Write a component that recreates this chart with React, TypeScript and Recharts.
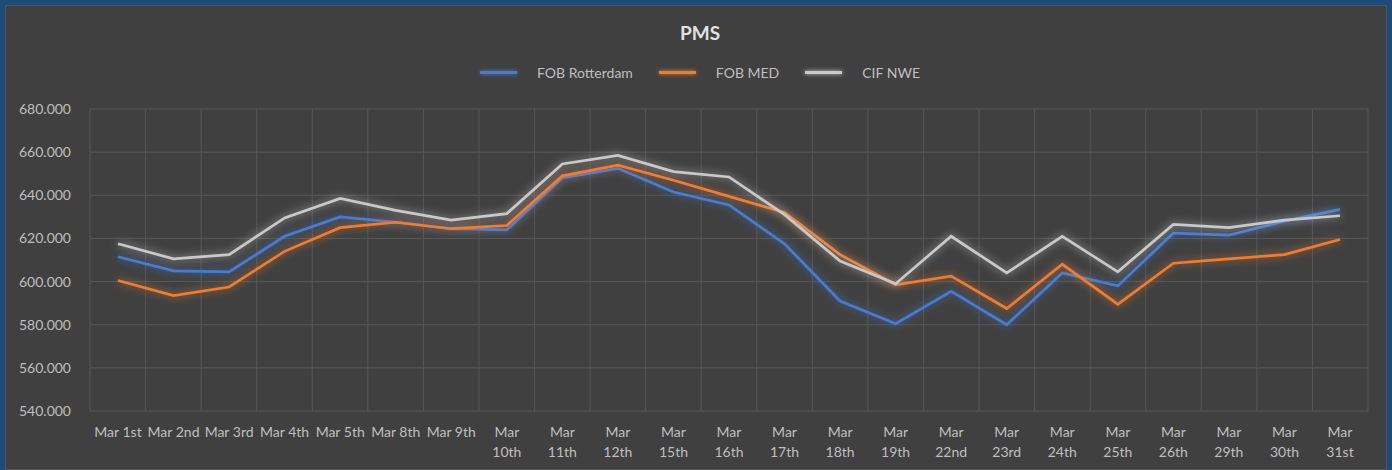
import React from "react";
import { LineChart, Line, XAxis, YAxis, CartesianGrid, Legend } from "recharts";

const categories = ["Mar 1st","Mar 2nd","Mar 3rd","Mar 4th","Mar 5th","Mar 8th","Mar 9th","Mar 10th","Mar 11th","Mar 12th","Mar 15th","Mar 16th","Mar 17th","Mar 18th","Mar 19th","Mar 22nd","Mar 23rd","Mar 24th","Mar 25th","Mar 26th","Mar 29th","Mar 30th","Mar 31st"];
const fobRotterdam = [611.5, 605, 604.5, 621, 630, 627.5, 624.5, 624, 648, 652.5, 641.5, 635.5, 617.5, 591, 580.5, 595.5, 580, 604, 598, 622.5, 621.5, 628, 633.5];
const fobMed = [600.5, 593.5, 597.5, 614, 625, 627.5, 624.5, 626, 649, 654, 647, 639.5, 632, 612.5, 598.5, 602.5, 587.5, 608, 589.5, 608.5, 610.5, 612.5, 619.5];
const cifNwe = [617.5, 610.5, 612.5, 629.5, 638.5, 633, 628.5, 631.5, 654.5, 658.5, 651, 648.5, 631, 609.5, 599, 621, 604, 621, 604.5, 626.5, 625, 628.5, 630.5];
const yTicks = [540, 560, 580, 600, 620, 640, 660, 680];

const seriesNames = ["FOB Rotterdam", "FOB MED", "CIF NWE"];
const seriesColors = ["#4a7bd0", "#ed7d31", "#c9c9c9"];

const data = categories.map((c, i) => ({
  name: c,
  "FOB Rotterdam": fobRotterdam[i],
  "FOB MED": fobMed[i],
  "CIF NWE": cifNwe[i],
}));

const FONT = "Lato, 'Open Sans', sans-serif";

const XTick = (props: any) => {
  const { x, y, payload } = props;
  const label: string = payload.value;
  const parts = label.length > 7 ? label.split(" ") : [label];
  return (
    <text x={x} y={y} textAnchor="middle" fill="#bfbfbf" fontSize={14} fontFamily={FONT}>
      {parts.map((p, i) => (
        <tspan key={i} x={x} dy={20}>{p}</tspan>
      ))}
    </text>
  );
};

const LegendContent = (props: any) => {
  const payload = [...(props.payload || [])].sort(
    (a: any, b: any) => seriesNames.indexOf(a.value) - seriesNames.indexOf(b.value)
  );
  return (
    <div style={{ display: "flex", justifyContent: "center", alignItems: "center", fontFamily: FONT, fontSize: 14, color: "#bfbfbf", paddingLeft: 8 }}>
      {payload.map((p: any, i: number) => (
        <div key={i} style={{ display: "flex", alignItems: "center", marginLeft: i === 0 ? 0 : 26 }}>
          <div style={{ width: 37, height: 3, background: p.color, marginRight: 20, boxShadow: `0 0 4px ${p.color}` }} />
          <span>{p.value}</span>
        </div>
      ))}
    </div>
  );
};

export default function App() {
  const W = 1382;
  const H = 465;
  return (
    <div style={{ position: "absolute", left: 0, top: 0, width: 1392, height: 470, background: "#1d4b7a", overflow: "hidden" }}>
      <div style={{ position: "absolute", left: 5, top: 5, width: W, height: H, background: "#404040", boxShadow: "inset 0 0 0 1px #555" }}>
        <div style={{ position: "absolute", left: 0, top: 16, width: W, textAlign: "center", fontFamily: FONT, fontWeight: 700, fontSize: 19, color: "#e2e2e2", zIndex: 2, paddingLeft: 8, boxSizing: "border-box" }}>
          PMS
        </div>
        <LineChart width={W} height={H} data={data} margin={{ top: 104, right: 19, bottom: 0, left: 0 }}>
          <defs>
            {seriesColors.map((c, i) => (
              <filter key={i} id={`glow${i}`} x="-5%" y="-30%" width="110%" height="160%">
                <feGaussianBlur in="SourceGraphic" stdDeviation="4.5" result="blur" />
                <feComponentTransfer in="blur" result="blur2">
                  <feFuncA type="linear" slope="0.8" />
                </feComponentTransfer>
                <feMerge>
                  <feMergeNode in="blur2" />
                  <feMergeNode in="SourceGraphic" />
                </feMerge>
              </filter>
            ))}
          </defs>
          <CartesianGrid
            stroke="#575757"
            strokeWidth={1}
            verticalCoordinatesGenerator={({ offset }: any) =>
              categories.map((_, i) => offset.left + (i * offset.width) / categories.length).concat([offset.left + offset.width])
            }
          />
          <XAxis
            dataKey="name"
            interval={0}
            axisLine={false}
            tickLine={false}
            tickMargin={0}
            height={59}
            padding={{ left: 28, right: 28 }}
            tick={<XTick />}
          />
          <YAxis
            domain={[540, 680]}
            ticks={yTicks}
            interval={0}
            axisLine={false}
            tickLine={false}
            width={85}
            tickMargin={13}
            tickFormatter={(v: number) => v.toFixed(3)}
            tick={{ fill: "#bfbfbf", fontSize: 14, fontFamily: FONT }}
          />
          <Legend
            verticalAlign="middle"
            align="center"
            layout="horizontal"
            wrapperStyle={{ top: 59, left: 0, width: W }}
            content={<LegendContent />}
          />
          {seriesNames.map((s, i) => (
            <Line
              key={s}
              type="linear"
              dataKey={s}
              stroke={seriesColors[i]}
              strokeWidth={2.7}
              dot={false}
              activeDot={false}
              isAnimationActive={false}
              style={{ filter: `url(#glow${i})` }}
            />
          ))}
        </LineChart>
      </div>
    </div>
  );
}
